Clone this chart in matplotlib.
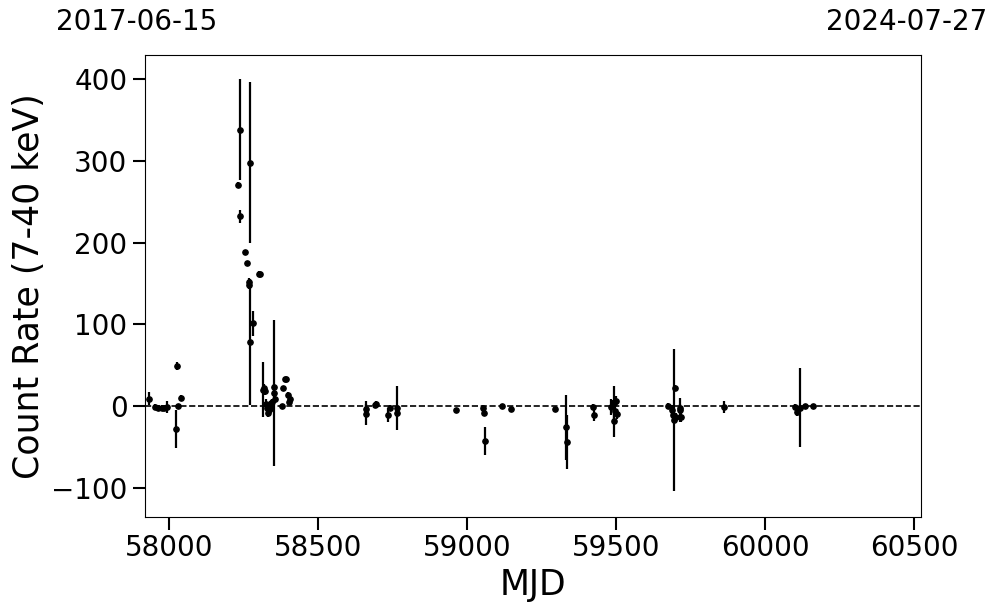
import numpy as np
from matplotlib import pyplot as plt

# light curve points (MJD, count rate, 1-sigma error)
mjd = [57932, 57952, 57962, 57975, 57982, 57992, 58022, 58026, 58030, 58038,
       58232, 58237, 58238, 58254, 58262, 58268, 58269, 58271, 58271, 58281,
       58302, 58305, 58315, 58318, 58321, 58325, 58328, 58330, 58333, 58336,
       58339, 58342, 58345, 58350, 58353, 58355, 58377, 58383, 58388, 58391,
       58397, 58402, 58404, 58662, 58662, 58690, 58693, 58735, 58740, 58763,
       58765, 58962, 59054, 59055, 59059, 59117, 59148, 59294, 59332, 59334,
       59424, 59426, 59484, 59488, 59492, 59494, 59497, 59500, 59502, 59675,
       59686, 59690, 59693, 59697, 59700, 59714, 59716, 59718, 59863, 60100,
       60106, 60118, 60135, 60160]
rate = [9, -1, -2, -2, -2, -1, -28, 49, 0, 10,
        271, 338, 232, 188, 175, 152, 148, 298, 78, 101,
        162, 161, 20, 22, 18, 3, -3, -8, 0, -5,
        2, -2, 5, 23, 16, 8, 0, 22, 33, 33,
        14, 5, 8, -4, -10, 1, 2, -11, -2, -3,
        -8, -5, -3, -8, -43, 0, -4, -4, -26, -44,
        -1, -11, -1, 2, -18, 4, -6, 6, -10, 0,
        -5, -11, -17, 22, -14, -3, -5, -14, -1, -1,
        -7, -2, 0, 0]
err = [8, 3, 3, 3, 3, 7, 23, 5, 3, 3,
       3, 62, 8, 3, 3, 5, 5, 98, 77, 15,
       3, 3, 34, 5, 4, 6, 8, 6, 5, 6,
       4, 5, 4, 4, 89, 4, 3, 3, 3, 3,
       3, 3, 4, 10, 13, 3, 4, 9, 3, 27,
       5, 3, 4, 4, 17, 2, 3, 2, 40, 33,
       4, 7, 10, 5, 20, 20, 6, 6, 6, 4,
       6, 8, 87, 4, 6, 5, 15, 5, 7, 3,
       5, 48, 3, 3]

start_label = "2017-06-15"
end_label = "2024-07-27"

fig = plt.figure(figsize=(9.97, 6.13), dpi=100)
ax = fig.add_axes([0.1454, 0.1571, 0.7781, 0.7532])

ax.errorbar(mjd, rate, yerr=err, fmt='o', color='black', markersize=3.8,
            elinewidth=1.6, capsize=0)
ax.axhline(0, color='black', linestyle='--', linewidth=1.2)

ax.set_xlim(57918.5, 60522.5)
ax.set_ylim(-135.5, 429.6)
ax.set_xticks([58000, 58500, 59000, 59500, 60000, 60500])
ax.set_yticks([-100, 0, 100, 200, 300, 400])
ax.tick_params(axis='both', labelsize=20, length=9, width=1.5)

ax.set_xlabel("MJD", fontsize=25)
ax.set_ylabel("Count Rate (7-40 keV)", fontsize=25)

ax.text(-0.0103, 1.0715, start_label, transform=ax.transAxes,
        ha='center', va='center', fontsize=20)
ax.text(0.982, 1.0715, end_label, transform=ax.transAxes,
        ha='center', va='center', fontsize=20)

fig.savefig("out.png", dpi=100)
